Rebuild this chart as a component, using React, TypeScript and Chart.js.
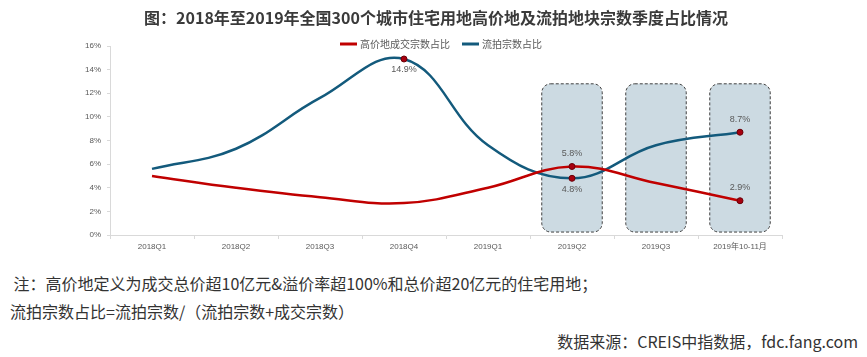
import React, { useEffect, useRef } from "react";
import { Chart, registerables } from "chart.js";

Chart.register(...registerables);

const titleText = "图：2018年至2019年全国300个城市住宅用地高价地及流拍地块宗数季度占比情况";
const categories = ["2018Q1", "2018Q2", "2018Q3", "2018Q4", "2019Q1", "2019Q2", "2019Q3", "2019年10-11月"];
const seriesNames = ["高价地成交宗数占比", "流拍宗数占比"];
const highPriceShare = [5.0, 4.0, 3.2, 2.7, 4.0, 5.8, 4.4, 2.9];
const unsoldShare = [5.6, 7.3, 11.6, 14.9, 7.6, 4.8, 7.6, 8.7];
// indices with markers / labels, and label position (above / below)
const highPriceMarked = [5, 7];
const highPriceLabelPos = ["above", "above"];
const unsoldMarked = [3, 5, 7];
const unsoldLabelPos = ["below", "below", "above"];
const highlightedCategories = [5, 6, 7];
const highlightTop = 12.8;
const highlightBottom = 0.25;
const yMax = 16;
const yStep = 2;
const notes = [
  " 注：高价地定义为成交总价超10亿元&溢价率超100%和总价超20亿元的住宅用地；",
  "流拍宗数占比=流拍宗数/（流拍宗数+成交宗数）",
];
const sourceText = "数据来源：CREIS中指数据，fdc.fang.com";

const RED = "#C00000";
const BLUE = "#135A7C";
const CJK = '"Noto Sans CJK SC", "Noto Sans", sans-serif';

function radii(n: number, marked: number[]) {
  return Array.from({ length: n }, (_, i) => (marked.includes(i) ? 3 : 0));
}

export default function App() {
  const ref = useRef<HTMLCanvasElement>(null);

  useEffect(() => {
    if (!ref.current) return;

    const boxesPlugin = {
      id: "boxes",
      beforeDatasetsDraw(chart: any) {
        const { ctx, scales } = chart;
        const xs = scales.x;
        const ys = scales.y;
        const half = xs.width / categories.length * 0.36;
        ctx.save();
        highlightedCategories.forEach((i) => {
          const cx = xs.getPixelForValue(i);
          const top = ys.getPixelForValue(highlightTop);
          const bottom = ys.getPixelForValue(highlightBottom);
          ctx.beginPath();
          ctx.roundRect(cx - half, top, half * 2, bottom - top, 9);
          ctx.fillStyle = "#CCDAE2";
          ctx.fill();
          ctx.setLineDash([3, 2]);
          ctx.lineWidth = 1;
          ctx.strokeStyle = "#404040";
          ctx.stroke();
        });
        ctx.restore();
      },
    };

    const labelsPlugin = {
      id: "pointLabels",
      afterDatasetsDraw(chart: any) {
        const { ctx } = chart;
        ctx.save();
        ctx.font = "9px 'Liberation Sans', sans-serif";
        ctx.fillStyle = "#595959";
        ctx.textAlign = "center";
        ctx.textBaseline = "middle";
        const draw = (dsIndex: number, idxs: number[], pos: string[], data: number[]) => {
          const meta = chart.getDatasetMeta(dsIndex);
          idxs.forEach((i, k) => {
            const el = meta.data[i];
            const dy = pos[k] === "above" ? -13 : 11;
            ctx.fillText(data[i].toFixed(1) + "%", el.x, el.y + dy);
          });
        };
        draw(0, highPriceMarked, highPriceLabelPos, highPriceShare);
        draw(1, unsoldMarked, unsoldLabelPos, unsoldShare);
        ctx.restore();
      },
    };

    const headerPlugin = {
      id: "header",
      afterDraw(chart: any) {
        const { ctx } = chart;
        ctx.save();
        ctx.font = `bold 16px ${CJK}`;
        ctx.fillStyle = "#3a3a3a";
        ctx.textAlign = "center";
        ctx.textBaseline = "middle";
        ctx.fillText(titleText, 436, 18);
        // legend
        ctx.font = `10px ${CJK}`;
        ctx.textAlign = "left";
        const colors = [RED, BLUE];
        const starts = [340, 462];
        seriesNames.forEach((name, i) => {
          ctx.beginPath();
          ctx.strokeStyle = colors[i];
          ctx.lineWidth = 3;
          ctx.moveTo(starts[i], 44);
          ctx.lineTo(starts[i] + 17, 44);
          ctx.stroke();
          ctx.fillStyle = "#595959";
          ctx.fillText(name, starts[i] + 20, 44);
        });
        ctx.restore();
      },
    };

    const chart = new Chart(ref.current, {
      type: "line",
      data: {
        labels: categories,
        datasets: [
          {
            label: seriesNames[0],
            data: highPriceShare,
            borderColor: RED,
            borderWidth: 2.5,
            tension: 0.4,
            pointRadius: radii(categories.length, highPriceMarked),
            pointBackgroundColor: "#A8000F",
            pointBorderColor: "#6a0008",
            pointBorderWidth: 1,
            fill: false,
          },
          {
            label: seriesNames[1],
            data: unsoldShare,
            borderColor: BLUE,
            borderWidth: 2.5,
            tension: 0.4,
            pointRadius: radii(categories.length, unsoldMarked),
            pointBackgroundColor: "#A8000F",
            pointBorderColor: "#6a0008",
            pointBorderWidth: 1,
            fill: false,
          },
        ],
      },
      options: {
        animation: false,
        responsive: false,
        maintainAspectRatio: false,
        layout: { padding: { left: 0, right: 85, top: 46, bottom: 0 } },
        plugins: {
          legend: { display: false },
          title: { display: false },
          tooltip: { enabled: false },
        },
        scales: {
          x: {
            offset: true,
            afterFit: (s: any) => {
              s.height = 25;
            },
            grid: {
              display: true,
              offset: true,
              drawOnChartArea: false,
              tickLength: 4,
              color: "#d9d9d9",
            },
            border: { color: "#d9d9d9" },
            ticks: {
              color: "#595959",
              font: { size: 8, family: "'Liberation Sans', 'Noto Sans CJK SC', sans-serif" },
              padding: 3,
              maxRotation: 0,
              autoSkip: false,
            },
          },
          y: {
            min: 0,
            max: yMax,
            afterFit: (s: any) => {
              s.width = 110;
            },
            grid: {
              display: true,
              drawOnChartArea: false,
              tickLength: 3,
              color: "#d9d9d9",
            },
            border: { color: "#d9d9d9" },
            ticks: {
              stepSize: yStep,
              color: "#595959",
              font: { size: 8, family: "'Liberation Sans', sans-serif" },
              padding: 6,
              callback: (v: any) => `${v}%`,
            },
          },
        },
      },
      plugins: [boxesPlugin, labelsPlugin, headerPlugin],
    });

    return () => chart.destroy();
  }, []);

  const noteStyle: React.CSSProperties = {
    position: "absolute",
    fontFamily: CJK,
    fontSize: 16,
    lineHeight: "20px",
    color: "#333",
    whiteSpace: "pre",
  };

  return (
    <div style={{ position: "absolute", left: 0, top: 0, width: 867, height: 357, background: "#fff", overflow: "hidden" }}>
      <canvas ref={ref} width={867} height={260} style={{ position: "absolute", left: 0, top: 0, width: 867, height: 260 }} />
      <div style={{ ...noteStyle, left: 10, top: 273 }}>{notes[0]}</div>
      <div style={{ ...noteStyle, left: 10, top: 301 }}>{notes[1]}</div>
      <div style={{ ...noteStyle, right: 9, top: 331 }}>{sourceText}</div>
    </div>
  );
}
